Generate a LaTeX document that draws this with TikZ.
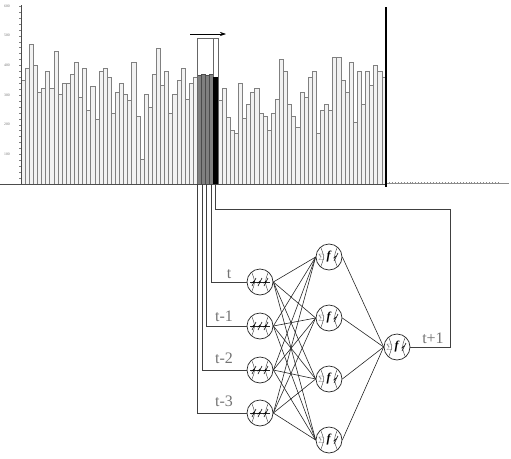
\documentclass[tikz,border=0pt]{standalone}
\usepackage{fontspec}
\setmainfont{Liberation Serif}
\usetikzlibrary{arrows.meta,calc}
\begin{document}
\begin{tikzpicture}[x=1pt,y=-1pt,
  neuron/.style={circle,draw=black!85,line width=0.7pt,minimum size=26pt,inner sep=0pt},
  conn/.style={draw=black!85,line width=0.6pt},
  feed/.style={draw=black!75,line width=0.9pt},
  lbl/.style={text=black!55,font=\fontsize{16}{16}\selectfont,inner sep=0pt},
  bar/.style={draw=black!50,fill=black!5,line width=0.5pt},
  axlbl/.style={text=black!55,font=\fontsize{3.8}{3.8}\selectfont,inner sep=0pt,anchor=east},
  seams/.pic={
    \draw[black!80,line width=0.4pt] (-8.4,-10) .. controls (-4.5,0) .. (-8.4,10);
    \draw[black!80,line width=0.4pt] (8.4,-10) .. controls (4.5,0) .. (8.4,10);
  },
  inglyph/.pic={
    \draw[black!85,line width=0.4pt] (-10,0) -- (10,0);
    \foreach \dx in {-6,0,6}{
      \draw[black,line width=0.6pt] (\dx-2,4) -- (\dx+2,-4);
      \draw[black,line width=0.5pt] (\dx-2.5,1.2) -- (\dx+0.3,-1.2);
    }
  },
  hidglyph/.pic={
    \node[text=black!55,font=\fontsize{9}{9}\selectfont,inner sep=0pt] at (-7.5,0) {$\Sigma$};
    \node[font=\fontsize{12}{12}\selectfont\bfseries\itshape,inner sep=0pt] at (-0.5,0) {f};
    \draw[black,line width=0.6pt] (5,4) -- (9,-4);
    \draw[black,line width=0.5pt] (4.5,1.2) -- (7.3,-1.2);
  }]
\useasboundingbox (0,0) rectangle (511,458);

% ---- bar chart ----
\foreach \h [count=\i from 0] in {80,68,44,65,92,88,71,88,51,94,83,83,74,62,97,68,110,86,119,71,68,77,113,92,83,94,100,62,116,159,94,107,74,48,85,71,
  113,94,80,68,99,83,77,75,74,75,74,77,
  100,88,117,130,133,83,118,104,92,88,113,116,130,113,99,59,71,104,116,127,92,97,77,71,133,110,104,110,57,57,80,92,62,122,71,104,71,85,65,71,77}{
  \draw[bar] (21+4.1*\i,184) rectangle (25.1+4.1*\i,\h);
}
% window bars
\foreach \h [count=\i from 43] in {75,74,75,74}{
  \draw[draw=black!70,fill=black!50,line width=0.5pt] (21+4.1*\i,184) rectangle (25.1+4.1*\i,\h);
}
\draw[draw=black,fill=black,line width=0.5pt] (213.7,184) rectangle (217.8,77);

% axes
\draw[black!70,line width=0.6pt] (21,5) -- (21,184);
\foreach \k in {0,...,30}{ \draw[black!50,line width=0.3pt] (19,184-5.93*\k) -- (21,184-5.93*\k); }
\foreach \v [count=\k] in {100,200,300,400,500,600}{
  \node[axlbl] at (10,184-29.65*\k) {\v};
}
\draw[black!70,line width=0.7pt] (0,184) -- (386,184);
\draw[black!45,line width=0.4pt] (386,183) -- (509,183);
\foreach \k in {0,...,37}{ \draw[black!45,line width=0.3pt] (389+2.95*\k,183) -- (389+2.95*\k,181.5); }
\draw[black,line width=1.5pt] (386,7) -- (386,187);

% sliding window and arrow
\draw[black!60,line width=0.6pt] (197.3,184) -- (197.3,38) -- (217.8,38) -- (217.8,184);
\draw[black!60,line width=0.6pt] (213.7,38) -- (213.7,77);
\coordinate (arrA) at (190,34);
\coordinate (arrB) at (226,34);
\draw[black,line width=0.6pt,-{Stealth[length=6pt,width=4pt]}] (arrA) -- (arrB);

% ---- network ----
\node[neuron] (i1) at (260,282) {};
\node[neuron] (i2) at (260,326) {};
\node[neuron] (i3) at (260,370) {};
\node[neuron] (i4) at (260,413) {};
\node[neuron] (h1) at (329,257) {};
\node[neuron] (h2) at (329,318) {};
\node[neuron] (h3) at (329,379) {};
\node[neuron] (h4) at (329,440) {};
\node[neuron] (o)  at (397,347) {};

\foreach \n in {i1,i2,i3,i4}{ \pic at (\n) {seams}; \pic at (\n) {inglyph}; }
\foreach \n in {h1,h2,h3,h4,o}{ \pic at (\n) {seams}; \pic at (\n) {hidglyph}; }

\foreach \a in {i1,i2,i3,i4}{
  \foreach \b in {h1,h2,h3,h4}{ \draw[conn] (\a.east) -- (\b.west); }
}
\foreach \b in {h1,h2,h3,h4}{ \draw[conn] (\b.east) -- (o.west); }

% feed lines from window
\coordinate (s1) at (211,184);
\coordinate (s2) at (206.6,184);
\coordinate (s3) at (202.2,184);
\coordinate (s4) at (197.8,184);
\coordinate (st) at (215.7,184);
\draw[feed] (s1) |- (i1.west);
\draw[feed] (s2) |- (i2.west);
\draw[feed] (s3) |- (i3.west);
\draw[feed] (s4) |- (i4.west);
\coordinate (tc1) at (215.7,209);
\coordinate (tc2) at (450,209);
\coordinate (tc3) at (450,347);
\draw[feed] (st) -- (tc1) -- (tc2) -- (tc3) -- (o.east);

% labels
\node[lbl] (l1) at (229,274) {t};
\node[lbl] (l2) at (224,316) {t-1};
\node[lbl] (l3) at (224,358) {t-2};
\node[lbl] (l4) at (224,401) {t-3};
\node[lbl] (l5) at (433,338) {t+1};
\end{tikzpicture}
\end{document}
